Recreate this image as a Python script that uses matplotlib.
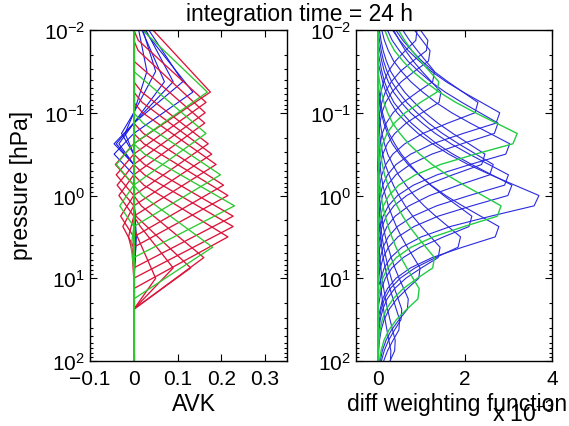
import numpy as np
import matplotlib
matplotlib.use("Agg")
import matplotlib.pyplot as plt
from matplotlib.ticker import LogLocator, NullFormatter, FixedLocator, FixedFormatter

plt.rcParams['font.family'] = ['Liberation Sans', 'DejaVu Sans']
plt.rcParams['mathtext.fontset'] = 'custom'
plt.rcParams['mathtext.rm'] = 'Liberation Sans'
plt.rcParams['mathtext.it'] = 'Liberation Sans:italic'
plt.rcParams['mathtext.bf'] = 'Liberation Sans:bold'

# ---------------- data ----------------
# retrieval grid, log10(pressure / hPa)
log_p_grid = [-2.0, -1.875, -1.75, -1.625, -1.5, -1.375, -1.25, -1.125, -1.0,
              -0.875, -0.75, -0.625, -0.5, -0.375, -0.25, -0.125, 0.0, 0.125,
              0.25, 0.375, 0.5, 0.625, 0.75, 0.875, 1.0, 1.125, 1.25, 1.375,
              1.5, 1.625, 1.75, 1.875, 2.0]

# averaging kernels: peak level (log10 p), peak value, upper / lower half width
# (decades), negative side-lobe depth, colour code
avk_peak_logp = [-1.5, -1.5, -1.375, -1.375, -1.375, -1.25,
                 -1.25, -1.25, -1.125, -1.0, -0.875, -0.75, -0.625, -0.5,
                 -0.375, -0.25, -0.125, 0.0, 0.125, 0.25, 0.375, 0.5, 0.625,
                 0.75, 0.875, 0.875, 1.0, 0.5, 0.625, 0.75, 1.5]
avk_peak_value = [0.030, 0.050, 0.070, 0.090, 0.112, 0.135,
                  0.175, 0.168, 0.165, 0.163, 0.162, 0.165, 0.170, 0.178,
                  0.188, 0.198, 0.205, 0.215, 0.230, 0.227, 0.227, 0.215, 0.180,
                  0.160, 0.130, 0.090, 0.050, 0.006, 0.005, 0.004, 0.0]
avk_upper_width = [0.8, 0.85, 0.85, 0.9, 0.9, 0.9,
                   1.0, 0.85, 0.80, 0.80, 0.75, 0.75, 0.70, 0.70,
                   0.70, 0.70, 0.70, 0.70, 0.70, 0.70, 0.70, 0.70, 0.70,
                   0.70, 0.65, 0.60, 0.60, 0.50, 0.50, 0.50, 0.50]
avk_lower_width = [0.5, 0.5, 0.5, 0.5, 0.5, 0.5,
                   0.625, 0.625, 0.625, 0.625, 0.625, 0.625, 0.625, 0.625,
                   0.625, 0.625, 0.625, 0.625, 0.625, 0.625, 0.625, 0.625, 0.625,
                   0.625, 0.5, 0.5, 0.375, 0.375, 0.3, 0.3, 0.3]
avk_lobe = [0.020, 0.028, 0.034, 0.040, 0.045, 0.045,
            0.042, 0.040, 0.040, 0.038, 0.034, 0.032, 0.030, 0.025,
            0.012, 0.006, 0.003, 0.0, 0.0, 0.0, 0.0, 0.0, 0.0,
            0.0, 0.0, 0.0, 0.0, 0.0, 0.0, 0.0, 0.0]
avk_colour = ['b', 'b', 'b', 'b', 'b', 'b',
              'r', 'g', 'r', 'r', 'r', 'g', 'r', 'r',
              'r', 'g', 'r', 'r', 'g', 'r', 'r', 'r', 'g',
              'r', 'r', 'r', 'r', 'b', 'b', 'b', 'g']

# differential weighting functions (units of 1e-3)
wf_peak_logp = [-2.0, -1.875, -1.75, -1.5, -1.375, -1.25, -1.125,
                -1.0, -0.875, -0.75, -0.625, -0.5, -0.375, -0.25, -0.125,
                0.0, 0.125, 0.25, 0.375, 0.5, 0.625, 0.75, 0.875,
                1.125, 1.25, 1.375, 1.5, 1.75, 1.875, 0.0]
wf_peak_value = [0.90, 1.15, 1.20, 1.30, 1.40, 1.45, 2.30,
                 2.80, 2.76, 3.20, 3.03, 2.46, 2.65, 3.00, 3.08,
                 3.70, 2.83, 2.16, 2.78, 1.90, 1.43, 1.30, 0.97,
                 0.95, 0.70, 0.55, 0.50, 0.40, 0.30, 0.0]
wf_colour = ['b', 'b', 'b', 'b', 'g', 'b', 'b',
             'b', 'b', 'g', 'b', 'b', 'b', 'b', 'b',
             'b', 'g', 'b', 'b', 'b', 'b', 'g', 'b',
             'g', 'b', 'b', 'b', 'b', 'b', 'g']
# shape of a weighting function, relative to its peak, per grid step
wf_shape_above = [1.0, 0.85, 0.70, 0.56, 0.44, 0.34, 0.25, 0.18, 0.12, 0.08,
                  0.05, 0.03, 0.015, 0.0]
wf_shape_below = [1.0, 0.97, 0.70, 0.45, 0.27, 0.15, 0.08, 0.04, 0.02, 0.0]

x_ticks_avk = [-0.1, 0.0, 0.1, 0.2, 0.3]
x_ticklabels_avk = ['\u22120.1', '0', '0.1', '0.2', '0.3']
x_ticks_wf = [0, 2, 4]
x_ticklabels_wf = ['0', '2', '4']

COL = {'r': '#dc1439', 'g': '#2ec82e', 'b': '#1a1ae6'}
WF_COL = {'g': '#22cc44', 'b': '#2a2ae0'}

# ---------------- helpers ----------------
lg = np.array(log_p_grid)
pres = 10.0 ** lg
step = 0.125


def avk_curve(p0, a, wu, wl, lobe):
    d = lg - p0
    v = np.zeros_like(lg)
    up = d < 0
    v[up] = a * np.clip(1 + d[up] / wu, 0, None)
    lo = (d >= 0) & (d <= wl)
    v[lo] = a * (1 - d[lo] / wl)
    lb = (d > wl) & (d < wl + 0.5)
    v[lb] = -lobe * (1 - np.abs(d[lb] - (wl + 0.25)) / 0.25)
    return v


def wf_curve(p0, a):
    k = np.round((lg - p0) / step).astype(int)
    v = np.zeros_like(lg)
    for i, kk in enumerate(k):
        if kk <= 0 and -kk < len(wf_shape_above):
            v[i] = a * wf_shape_above[-kk]
        elif kk > 0 and kk < len(wf_shape_below):
            v[i] = a * wf_shape_below[kk]
    return v


fig = plt.figure(figsize=(5.69, 4.27), dpi=100)
W, H = 569.0, 427.0
ax1 = fig.add_axes([90 / W, 1 - 362 / H, 197 / W, 331 / H])
ax2 = fig.add_axes([356 / W, 1 - 362 / H, 196 / W, 331 / H])

order = {'b': 0, 'r': 1, 'g': 2}
idx = sorted(range(len(avk_peak_logp)), key=lambda i: order[avk_colour[i]])
for i in idx:
    v = avk_curve(avk_peak_logp[i], avk_peak_value[i], avk_upper_width[i],
                  avk_lower_width[i], avk_lobe[i])
    ax1.plot(v, pres, color=COL[avk_colour[i]],
             lw=0.8 if avk_colour[i] == 'b' else 0.95)

idx2 = sorted(range(len(wf_peak_logp)), key=lambda i: order[wf_colour[i]])
for i in idx2:
    v = wf_curve(wf_peak_logp[i], wf_peak_value[i])
    ax2.plot(v, pres, color=WF_COL[wf_colour[i]],
             lw=0.8 if wf_colour[i] == 'b' else 1.0)

for ax in (ax1, ax2):
    ax.set_yscale('log')
    ax.set_ylim(1e2, 1e-2)
    ax.yaxis.set_major_locator(LogLocator(base=10, numticks=10))
    ax.yaxis.set_minor_locator(LogLocator(base=10, subs=np.arange(2, 10), numticks=10))
    ax.yaxis.set_minor_formatter(NullFormatter())
    ax.tick_params(which='both', direction='in', top=True, right=True,
                   labelsize=15, width=0.8)
    ax.tick_params(which='major', length=5)
    ax.tick_params(which='minor', length=2.5)
    ax.tick_params(axis='x', pad=6)
    for s in ax.spines.values():
        s.set_linewidth(1.0)

ax1.set_xlim(-0.1, 0.35)
ax1.xaxis.set_major_locator(FixedLocator(x_ticks_avk))
ax1.xaxis.set_major_formatter(FixedFormatter(x_ticklabels_avk))
ax2.set_xlim(-0.5, 4)
ax2.xaxis.set_major_locator(FixedLocator(x_ticks_wf))
ax2.xaxis.set_major_formatter(FixedFormatter(x_ticklabels_wf))

fig.text(300 / W, 1 - 14 / H, 'integration time = 24 h', ha='center', va='center', fontsize=16.5)
fig.text(22 / W, 1 - 185 / H, 'pressure [hPa]', ha='center', va='center', rotation=90, fontsize=16.5)
fig.text(194 / W, 1 - 405 / H, 'AVK', ha='center', va='center', fontsize=16.5)
fig.text(457 / W, 1 - 405 / H, 'diff weighting function', ha='center', va='center', fontsize=16.5)
fig.text(492 / W, 1 - 414 / H, 'x 10$^{\\mathregular{\u22123}}$', ha='left', va='center', fontsize=16.5)

fig.savefig('out.png', dpi=100)
